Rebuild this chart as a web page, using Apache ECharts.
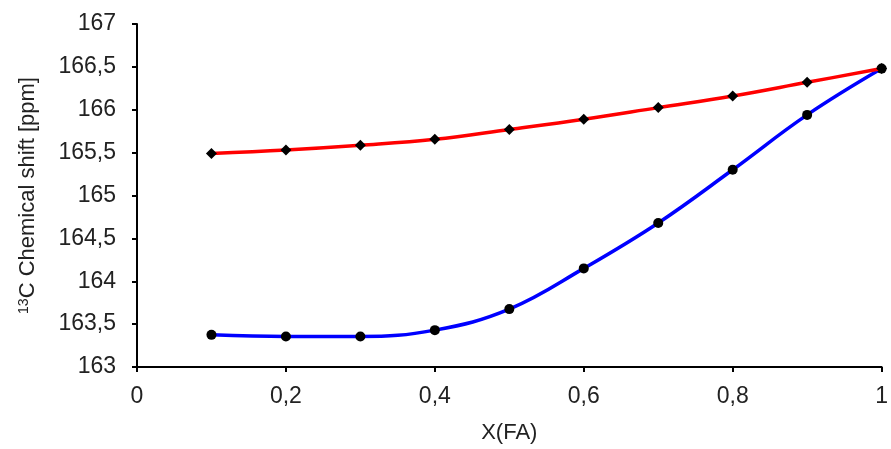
<!DOCTYPE html>
<html>
<head>
<meta charset="utf-8">
<script src="https://cdn.jsdelivr.net/npm/echarts@6/dist/echarts.min.js"></script>
<style>
  html, body { margin: 0; padding: 0; background: #fff; }
  #chart { width: 891px; height: 449px; }
</style>
</head>
<body>
<div id="chart"></div>
<script>
// Mole fraction of FA
const xFA = [0.1, 0.2, 0.3, 0.4, 0.5, 0.6, 0.7, 0.8, 0.9, 1.0];
// 13C chemical shifts (ppm)
const shiftUpper = [165.49, 165.53, 165.585, 165.655, 165.77, 165.89, 166.025, 166.16, 166.32, 166.48];
const shiftLower = [163.375, 163.355, 163.355, 163.43, 163.675, 164.15, 164.68, 165.30, 165.94, 166.48];

const toPairs = (xs, ys) => xs.map((x, i) => [x, ys[i]]);
const comma = v => String(+v.toFixed(2)).replace('.', ',');

const font = 'Liberation Sans, Arial, sans-serif';
const chart = echarts.init(document.getElementById('chart'));
chart.setOption({
  animation: false,
  backgroundColor: '#fff',
  grid: { left: 137, right: 7, top: 24, bottom: 80 },
  xAxis: {
    type: 'value', min: 0, max: 1, interval: 0.2,
    name: 'X(FA)', nameLocation: 'middle', nameGap: 55,
    nameTextStyle: { fontFamily: font, fontSize: 22, color: '#222' },
    axisLine: { lineStyle: { color: '#000', width: 2 } },
    axisTick: { show: true, length: 5, lineStyle: { color: '#000', width: 2 } },
    axisLabel: { formatter: comma, fontFamily: font, fontSize: 23, color: '#222', margin: 18 },
    splitLine: { show: false }
  },
  yAxis: {
    type: 'value', min: 163, max: 167, interval: 0.5,
    name: '{sup|13}C Chemical shift [ppm]', nameLocation: 'middle', nameGap: 98, nameRotate: 90,
    nameTextStyle: {
      fontFamily: font, fontSize: 22, color: '#222',
      rich: { sup: { fontFamily: font, fontSize: 14, color: '#222', verticalAlign: 'top', lineHeight: 22 } }
    },
    axisLine: { show: true, lineStyle: { color: '#000', width: 2 } },
    axisTick: { show: true, length: 5, lineStyle: { color: '#000', width: 2 } },
    axisLabel: { formatter: comma, fontFamily: font, fontSize: 23, color: '#222', margin: 21 },
    splitLine: { show: false }
  },
  series: [
    {
      type: 'line', data: toPairs(xFA, shiftUpper), smooth: 0.4,
      symbol: 'diamond', symbolSize: 11,
      lineStyle: { color: '#ff0000', width: 3.5 },
      itemStyle: { color: '#000' }, z: 3
    },
    {
      type: 'line', data: toPairs(xFA, shiftLower), smooth: 0.4,
      symbol: 'circle', symbolSize: 10,
      lineStyle: { color: '#0000ff', width: 3.5 },
      itemStyle: { color: '#000' }, z: 2
    }
  ]
});
</script>
</body>
</html>
